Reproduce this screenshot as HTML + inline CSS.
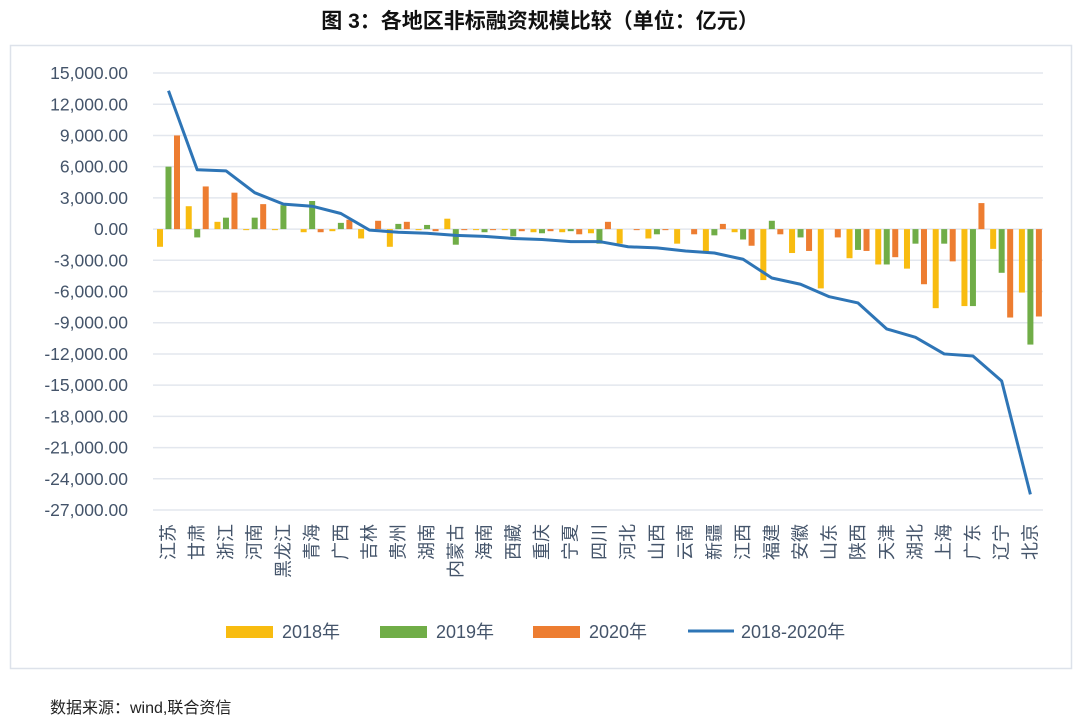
<!DOCTYPE html>
<html><head><meta charset="utf-8"><style>
body{margin:0;background:#fff;width:1080px;height:723px;overflow:hidden}
svg text{font-family:"Liberation Sans","Noto Sans CJK SC",sans-serif}
</style></head><body>
<svg id="s" width="1080" height="723" xmlns="http://www.w3.org/2000/svg">
<text x="540" y="28" text-anchor="middle" font-size="21" font-weight="bold" fill="#111">图 3：各地区非标融资规模比较（单位：亿元）</text>
<rect x="10.5" y="45.5" width="1061" height="623" fill="none" stroke="#dde2ea" stroke-width="1.5"/>
<g id="g"></g>
<text x="50" y="713" font-size="16" fill="#222">数据来源：wind,联合资信</text>
</svg>
<script>
var names=["江苏","甘肃","浙江","河南","黑龙江","青海","广西","吉林","贵州","湖南","内蒙古","海南","西藏","重庆","宁夏","四川","河北","山西","云南","新疆","江西","福建","安徽","山东","陕西","天津","湖北","上海","广东","辽宁","北京"];
var d=[[-1.7,6.0,9.0,13.3],[2.2,-0.8,4.1,5.7],[0.7,1.1,3.5,5.6],[-0.1,1.1,2.4,3.5],[-0.1,2.3,0,2.4],[-0.3,2.7,-0.3,2.2],[-0.2,0.6,0.9,1.5],[-0.9,0,0.8,-0.1],[-1.7,0.5,0.7,-0.3],[-0.1,0.4,-0.2,-0.4],[1.0,-1.5,-0.1,-0.6],[-0.1,-0.3,-0.1,-0.7],[-0.1,-0.7,-0.2,-0.9],[-0.3,-0.4,-0.2,-1.0],[-0.3,-0.2,-0.5,-1.2],[-0.4,-1.4,0.7,-1.2],[-1.4,0,-0.1,-1.7],[-0.9,-0.5,-0.1,-1.8],[-1.4,0,-0.5,-2.1],[-2.2,-0.6,0.5,-2.3],[-0.3,-1.0,-1.6,-2.9],[-4.9,0.8,-0.5,-4.7],[-2.3,-0.8,-2.1,-5.3],[-5.7,0,-0.8,-6.5],[-2.8,-2.0,-2.1,-7.1],[-3.4,-3.4,-2.7,-9.6],[-3.8,-1.4,-5.3,-10.4],[-7.6,-1.4,-3.1,-12.0],[-7.4,-7.4,2.5,-12.2],[-1.9,-4.2,-8.5,-14.6],[-6.1,-11.1,-8.4,-25.5]];
var Y=function(v){return 229.1-v*31.21/3;};
var h="";
for(var i=0;i<15;i++){var v=15-3*i,y=Y(v);
h+='<line x1="153" x2="1043" y1="'+y+'" y2="'+y+'" stroke="#e3e7ee" stroke-width="1.5"/>';
var t=(v<0?"-":"")+Math.abs(v*1000).toLocaleString("en-US")+".00";
h+='<text x="128" y="'+(y+6)+'" text-anchor="end" font-size="17.5" fill="#44546a">'+t+'</text>';}
var cols=["#f8bc10","#70ad47","#ed7d31"],pts=[];
for(var i=0;i<31;i++){var cx=168.5+i*28.73;
for(var k=0;k<3;k++){var v=d[i][k];if(v==0)continue;var y1=Y(Math.max(v,0)),y2=Y(Math.min(v,0));
h+='<rect x="'+(cx-11.5+k*8.5)+'" y="'+y1+'" width="6" height="'+Math.max(y2-y1,1)+'" fill="'+cols[k]+'"/>';}
pts.push(cx+","+Y(d[i][3]));
h+='<text transform="translate('+(cx+6)+',524) rotate(-90)" text-anchor="end" font-size="18" fill="#44546a">'+names[i]+'</text>';}
h+='<polyline points="'+pts.join(" ")+'" fill="none" stroke="#2e75b6" stroke-width="3" stroke-linejoin="round"/>';
var L=[[226,"#f8bc10","2018年"],[380,"#70ad47","2019年"],[533,"#ed7d31","2020年"]];
L.forEach(function(l){h+='<rect x="'+l[0]+'" y="626" width="47" height="12" fill="'+l[1]+'"/><text x="'+(l[0]+56)+'" y="638" font-size="18" fill="#44546a">'+l[2]+'</text>';});
h+='<line x1="688" x2="734" y1="631" y2="631" stroke="#2e75b6" stroke-width="3"/><text x="741" y="638" font-size="18" fill="#44546a">2018-2020年</text>';
document.getElementById("g").innerHTML=h;
</script>
</body></html>
